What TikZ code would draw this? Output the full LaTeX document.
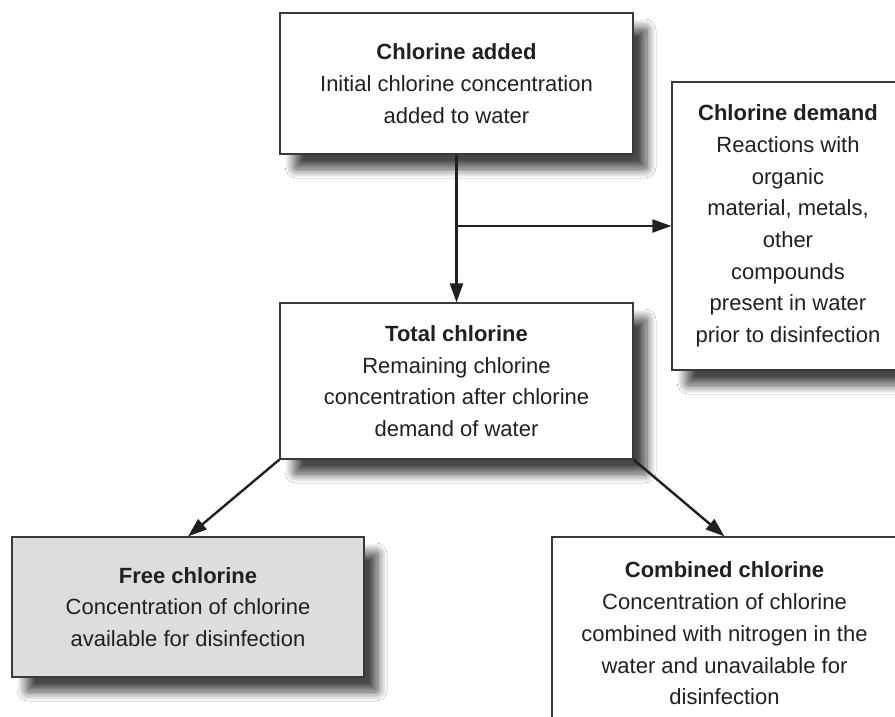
\documentclass[tikz,border=0pt]{standalone}
\usepackage{fontspec}
\setmainfont{Liberation Sans}
\usetikzlibrary{arrows.meta,shadows.blur}
\definecolor{edge}{HTML}{3A3A3A}
\definecolor{ink}{HTML}{231F20}
\definecolor{freefill}{HTML}{DCDDDF}
\begin{document}
\begin{tikzpicture}[x=1pt,y=1pt,
  box/.style={draw=edge, line width=1.2pt, fill=white, align=center, inner sep=0pt,
    font=\fontsize{22}{31.7}\selectfont, text=ink,
    blur shadow={shadow xshift=14pt, shadow yshift=-15pt, shadow blur radius=9pt,
      shadow blur steps=14, shadow blur extra rounding=2pt, shadow opacity=72}},
  arr/.style={draw=ink, line width=2.4pt, -{Triangle[length=19pt,width=13pt]}}]
\clip (0,0) rectangle (895,-717);
\fill[white] (0,0) rectangle (895,-717);

\node[box, minimum width=353pt, minimum height=141pt] (added) at (456.5,-83.5)
  {\textbf{Chlorine added}\\Initial chlorine concentration\\added to water};
\node[box, minimum width=232pt, minimum height=288pt] (demand) at (788,-226)
  {\textbf{Chlorine demand}\\Reactions with\\organic\\material, metals,\\other\\compounds\\present in water\\prior to disinfection};
\node[box, minimum width=353pt, minimum height=156pt] (total) at (456.5,-381)
  {\textbf{Total chlorine}\\Remaining chlorine\\concentration after chlorine\\demand of water};
\node[box, fill=freefill, minimum width=352pt, minimum height=140pt] (free) at (188,-607)
  {\textbf{Free chlorine}\\Concentration of chlorine\\available for disinfection};
\node[box, minimum width=345pt, minimum height=193pt] (combined) at (724.5,-633.5)
  {\textbf{Combined chlorine}\\Concentration of chlorine\\combined with nitrogen in the\\water and unavailable for\\disinfection};

\coordinate (branch) at (added.south |- demand.west);
\draw[arr] (added.south) -- (total.north);
\draw[arr] (branch) -- (demand.west);
\draw[arr] (total.south west) -- (free.north);
\draw[arr] (total.south east) -- (combined.north);
\end{tikzpicture}
\end{document}
